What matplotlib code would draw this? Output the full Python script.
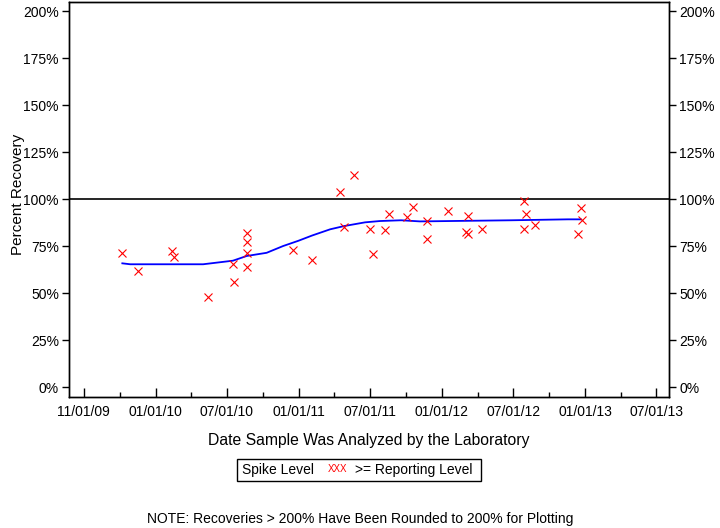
"""
Spike recovery over time: percent recovery vs analysis date
"""

import pandas as pd
import matplotlib
matplotlib.use('Agg')
import matplotlib.pyplot as plt
import matplotlib.dates as mdates
from matplotlib.patches import Rectangle

# ============ style ============
font_family = ['Liberation Sans', 'DejaVu Sans']
tick_fontsize = 10
label_fontsize = 11.3
ylabel_fontsize = 11
legend_fontsize = 10
axes_linewidth = 1.0

plt.rcParams.update({
    'font.family': font_family,
    'font.size': tick_fontsize,
    'axes.linewidth': axes_linewidth,
    'xtick.labelsize': tick_fontsize,
    'ytick.labelsize': tick_fontsize,
})

# ============ data ============
sample_dates = [
    '2009-10-08', '2009-11-16', '2010-02-11', '2010-02-16', '2010-05-14',
    '2010-07-16', '2010-07-20', '2010-08-21', '2010-08-21', '2010-08-21',
    '2010-08-21', '2010-12-16', '2011-02-04', '2011-04-16', '2011-05-21',
    '2011-04-27', '2011-07-01', '2011-07-09', '2011-08-09', '2011-08-19',
    '2011-10-05', '2011-10-19', '2011-11-24', '2011-11-24', '2012-01-17',
    '2012-03-08', '2012-03-03', '2012-03-08', '2012-04-13', '2012-07-29',
    '2012-08-03', '2012-07-29', '2012-08-26', '2012-12-20', '2012-12-22',
    '2012-12-13',
]
recovery_pct = [
    71.1, 61.5, 72.5, 69.3, 48.0,
    65.4, 55.7, 82.1, 77.0, 71.1,
    63.7, 73.0, 67.4, 103.6, 112.6,
    84.9, 83.9, 70.6, 83.7, 91.9,
    90.3, 95.6, 88.3, 78.6, 93.5,
    91.0, 82.6, 81.2, 83.9, 98.8,
    91.9, 83.9, 86.0, 95.1, 88.8,
    81.2,
]

# smoothed trend (blue curve)
trend_dates = [
    '2009-10-08', '2009-10-28', '2010-05-02', '2010-07-17', '2010-08-21',
    '2010-10-11', '2010-11-22', '2010-12-31', '2011-02-04', '2011-03-22',
    '2011-04-26', '2011-06-19', '2011-07-27', '2011-09-19', '2011-11-06',
    '2012-06-27', '2012-11-17', '2012-12-20',
]
trend_pct = [
    65.8, 65.3, 65.3, 67.2, 69.7,
    71.4, 75.0, 77.8, 80.6, 83.9,
    85.6, 87.6, 88.3, 88.7, 88.1,
    88.7, 89.2, 89.2,
]

major_tick_dates = ['2009-07-01', '2010-01-01', '2010-07-01', '2011-01-01', '2011-07-01',
                    '2012-01-01', '2012-07-01', '2013-01-01', '2013-07-01']
major_tick_labels = ['11/01/09', '01/01/10', '07/01/10', '01/01/11', '07/01/11',
                     '01/01/12', '07/01/12', '01/01/13', '07/01/13']
minor_tick_dates = ['2009-10-01', '2010-04-01', '2010-10-01', '2011-04-01',
                    '2011-10-01', '2012-04-01', '2012-10-01', '2013-04-01']
y_ticks = [0, 25, 50, 75, 100, 125, 150, 175, 200]
x_limits = ['2009-05-25', '2013-08-02']
y_limits = (-5.3, 204.8)


def to_num(dates):
    return mdates.date2num(pd.to_datetime(dates))


def main():
    W, H = 720, 528
    fig = plt.figure(figsize=(W / 100, H / 100), dpi=100)
    ax = fig.add_axes([69 / W, 1 - 397 / H, 600 / W, 395 / H])

    # 100% reference line
    ax.axhline(100, color='black', linewidth=1.2, zorder=2)

    # trend + samples
    ax.plot(to_num(trend_dates), trend_pct, color='#0000ff', linewidth=1.3, zorder=3)
    ax.plot(to_num(sample_dates), recovery_pct, linestyle='none', marker='x',
            color='#ff0000', markersize=5.5, markeredgewidth=0.8, zorder=4)

    ax.set_xlim(to_num(x_limits))
    ax.set_ylim(*y_limits)

    # x axis: ticks pointing in
    ax.set_xticks(to_num(major_tick_dates))
    ax.set_xticklabels(major_tick_labels)
    ax.set_xticks(to_num(minor_tick_dates), minor=True)
    ax.tick_params(axis='x', which='major', direction='in', length=6.5, width=1, pad=6)
    ax.tick_params(axis='x', which='minor', direction='in', length=3.8, width=1)

    # y axis left and right
    ax.set_yticks(y_ticks)
    ax.set_yticklabels([f'{v}%' for v in y_ticks])
    ax.tick_params(axis='y', which='major', direction='out', length=5.2, width=1, pad=2)

    ax2 = ax.twinx()
    ax2.set_ylim(*y_limits)
    ax2.set_yticks(y_ticks)
    ax2.set_yticklabels([f'{v}%' for v in y_ticks])
    ax2.tick_params(axis='y', which='major', direction='out', length=5.2, width=1, pad=2)

    ax.set_xlabel('Date Sample Was Analyzed by the Laboratory', fontsize=label_fontsize)
    ax.xaxis.set_label_coords(0.5, -0.091)
    ax.set_ylabel('Percent Recovery', fontsize=ylabel_fontsize)
    ax.yaxis.set_label_coords(-0.074, 0.514)

    # legend box drawn by hand
    fig.patches.append(Rectangle((237.3 / W, 1 - 481 / H), 243.4 / W, 22 / H,
                                 transform=fig.transFigure, fill=False,
                                 edgecolor='black', linewidth=1.0))
    y_leg = 1 - 470 / H
    fig.text(242 / W, y_leg, 'Spike Level', ha='left', va='center', fontsize=legend_fontsize)
    fig.text(328 / W, y_leg + 1.5 / H, 'XXX', ha='left', va='center', fontsize=7, color='#ff0000')
    fig.text(355 / W, y_leg, '>= Reporting Level', ha='left', va='center', fontsize=legend_fontsize)

    fig.text(0.5, 1 - 519 / H, 'NOTE: Recoveries > 200% Have Been Rounded to 200% for Plotting',
             ha='center', va='center', fontsize=legend_fontsize)

    fig.savefig('out.png', dpi=100, facecolor='white')


if __name__ == '__main__':
    main()
